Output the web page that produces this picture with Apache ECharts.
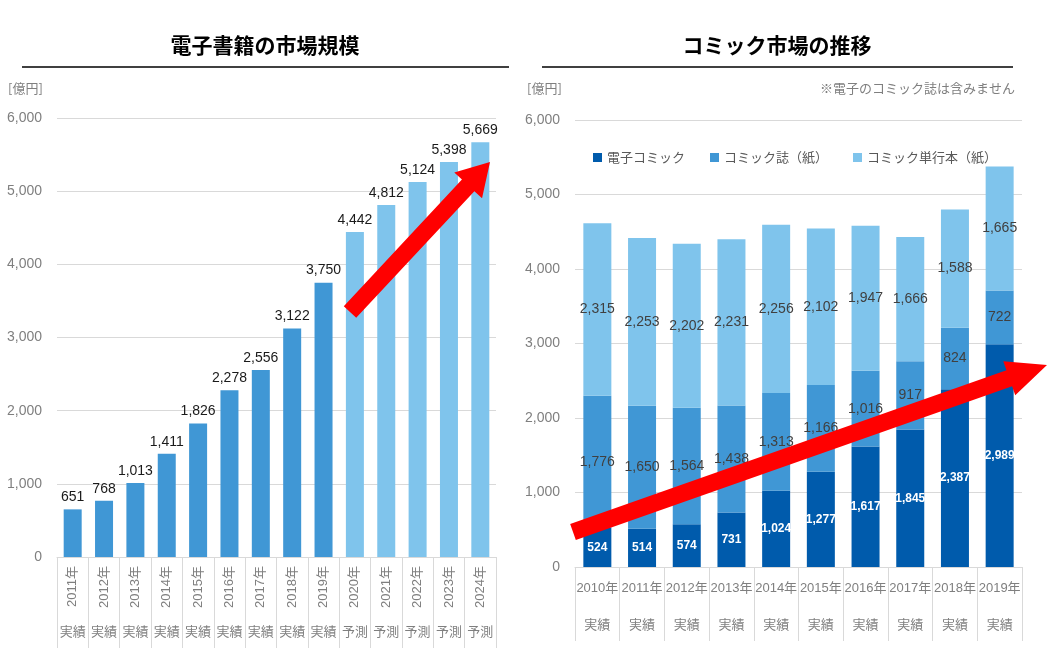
<!DOCTYPE html>
<html>
<head>
<meta charset="utf-8">
<script src="https://cdn.jsdelivr.net/npm/echarts@6/dist/echarts.min.js"></script>
<style>
html, body { margin: 0; padding: 0; background: #fff; }
#main { width: 1063px; height: 659px; }
</style>
</head>
<body>
<div id="main"></div>
<script>
// 電子書籍の市場規模
var ebookYears = ['2011年', '2012年', '2013年', '2014年', '2015年', '2016年', '2017年',
    '2018年', '2019年', '2020年', '2021年', '2022年', '2023年', '2024年'];
var ebookPhase = ['実績', '実績', '実績', '実績', '実績', '実績', '実績', '実績', '実績',
    '予測', '予測', '予測', '予測', '予測'];
var ebookValues = [651, 768, 1013, 1411, 1826, 2278, 2556, 3122, 3750, 4442, 4812, 5124, 5398, 5669];

// コミック市場の推移
var comicYears = ['2010年', '2011年', '2012年', '2013年', '2014年', '2015年', '2016年',
    '2017年', '2018年', '2019年'];
var comicPhase = ['実績', '実績', '実績', '実績', '実績', '実績', '実績', '実績', '実績', '実績'];
var digitalComic = [524, 514, 574, 731, 1024, 1277, 1617, 1845, 2387, 2989];
var comicMagazine = [1776, 1650, 1564, 1438, 1313, 1166, 1016, 917, 824, 722];
var comicBook = [2315, 2253, 2202, 2231, 2256, 2102, 1947, 1666, 1588, 1665];

var yTicks = [0, 6000, 1000];

var FONT = "'Liberation Sans', 'Noto Sans CJK JP', sans-serif";
var JP = "'Noto Sans CJK JP', sans-serif";
var GRAY = '#7f7f7f';
var GRID = '#d9d9d9';
var C_DARK = '#005bac', C_MID = '#4097d5', C_LIGHT = '#7fc4ec';

function comma(v) {
    return String(v).replace(/\B(?=(\d{3})+(?!\d))/g, ',');
}

// thick annotation arrow as polygon
function arrow(x1, y1, x2, y2, sw, hw, hl) {
    var dx = x2 - x1, dy = y2 - y1, L = Math.sqrt(dx * dx + dy * dy);
    var ux = dx / L, uy = dy / L, nx = -uy, ny = ux;
    var bx = x2 - ux * hl, by = y2 - uy * hl;
    return [
        [x1 + nx * sw / 2, y1 + ny * sw / 2],
        [bx + nx * sw / 2, by + ny * sw / 2],
        [bx + nx * hw / 2, by + ny * hw / 2],
        [x2, y2],
        [bx - nx * hw / 2, by - ny * hw / 2],
        [bx - nx * sw / 2, by - ny * sw / 2],
        [x1 - nx * sw / 2, y1 - ny * sw / 2]
    ];
}

function valueAxis(gridIndex) {
    return {
        type: 'value',
        gridIndex: gridIndex,
        min: yTicks[0],
        max: yTicks[1],
        interval: yTicks[2],
        axisLine: { show: false },
        axisTick: { show: false },
        splitLine: { lineStyle: { color: GRID, width: 1 } },
        axisLabel: { color: GRAY, fontSize: 14, fontFamily: FONT, margin: 15, formatter: comma }
    };
}

var chart = echarts.init(document.getElementById('main'));

var option = {
    animation: false,
    textStyle: { fontFamily: FONT },
    grid: [
        { left: 57, right: 567, top: 118, bottom: 102 },
        { left: 575, right: 41, top: 120, bottom: 92 }
    ],
    legend: {
        left: 593,
        top: 151,
        padding: 0,
        icon: 'rect',
        itemWidth: 9,
        itemHeight: 9,
        itemGap: 25,
        textStyle: { color: '#595959', fontSize: 13, fontFamily: JP },
        data: ['電子コミック', 'コミック誌（紙）', 'コミック単行本（紙）']
    },
    xAxis: [
        {
            type: 'category', gridIndex: 0, data: ebookYears,
            axisLine: { lineStyle: { color: GRID } },
            axisTick: { show: true, interval: 0, length: 91, lineStyle: { color: GRID } },
            axisLabel: { interval: 0, rotate: 90, color: GRAY, fontSize: 13, fontFamily: FONT, margin: 9 }
        },
        {
            type: 'category', gridIndex: 0, data: ebookPhase, position: 'bottom', offset: 67,
            axisLine: { show: false },
            axisTick: { show: false },
            axisLabel: { interval: 0, color: GRAY, fontSize: 13, fontFamily: JP, margin: 1 }
        },
        {
            type: 'category', gridIndex: 1, data: comicYears,
            axisLine: { lineStyle: { color: GRID } },
            axisTick: { show: true, interval: 0, length: 74, lineStyle: { color: GRID } },
            axisLabel: { interval: 0, color: GRAY, fontSize: 13, fontFamily: FONT, margin: 15 }
        },
        {
            type: 'category', gridIndex: 1, data: comicPhase, position: 'bottom', offset: 50,
            axisLine: { show: false },
            axisTick: { show: false },
            axisLabel: { interval: 0, color: GRAY, fontSize: 13, fontFamily: JP, margin: 1 }
        }
    ],
    yAxis: [valueAxis(0), valueAxis(1)],
    series: [
        {
            name: '電子書籍',
            type: 'bar',
            xAxisIndex: 0,
            yAxisIndex: 0,
            barWidth: 18,
            data: ebookValues,
            itemStyle: {
                color: function (p) {
                    return ebookPhase[p.dataIndex] === '予測' ? C_LIGHT : C_MID;
                }
            },
            label: {
                show: true, position: 'top', distance: 5,
                color: '#1a1a1a', fontSize: 14, fontFamily: FONT,
                formatter: function (p) { return comma(p.value); }
            }
        },
        {
            name: '電子コミック',
            type: 'bar',
            stack: 'comic',
            xAxisIndex: 2,
            yAxisIndex: 1,
            barWidth: 28,
            data: digitalComic,
            itemStyle: { color: C_DARK },
            label: {
                show: true, position: 'inside',
                color: '#fff', fontSize: 12, fontWeight: 'bold', fontFamily: FONT,
                formatter: function (p) { return comma(p.value); }
            }
        },
        {
            name: 'コミック誌（紙）',
            type: 'bar',
            stack: 'comic',
            xAxisIndex: 2,
            yAxisIndex: 1,
            barWidth: 28,
            data: comicMagazine,
            itemStyle: { color: C_MID },
            label: {
                show: true, position: 'inside',
                color: '#404040', fontSize: 14, fontFamily: FONT,
                formatter: function (p) { return comma(p.value); }
            }
        },
        {
            name: 'コミック単行本（紙）',
            type: 'bar',
            stack: 'comic',
            xAxisIndex: 2,
            yAxisIndex: 1,
            barWidth: 28,
            data: comicBook,
            itemStyle: { color: C_LIGHT },
            label: {
                show: true, position: 'inside',
                color: '#404040', fontSize: 14, fontFamily: FONT,
                formatter: function (p) { return comma(p.value); }
            }
        }
    ],
    graphic: [
        { type: 'text', x: 265, y: 45, z: 100,
          style: { text: '電子書籍の市場規模', fill: '#000', font: 'bold 21px ' + JP, align: 'center', verticalAlign: 'middle' } },
        { type: 'line', z: 100, shape: { x1: 22, y1: 67, x2: 509, y2: 67 }, style: { stroke: '#000', lineWidth: 1.3 } },
        { type: 'text', x: 8, y: 88, z: 100,
          style: { text: '[億円]', fill: GRAY, font: '13px ' + JP, align: 'left', verticalAlign: 'middle' } },

        { type: 'text', x: 777, y: 45, z: 100,
          style: { text: 'コミック市場の推移', fill: '#000', font: 'bold 21px ' + JP, align: 'center', verticalAlign: 'middle' } },
        { type: 'line', z: 100, shape: { x1: 542, y1: 67, x2: 1013, y2: 67 }, style: { stroke: '#000', lineWidth: 1.3 } },
        { type: 'text', x: 527, y: 88, z: 100,
          style: { text: '[億円]', fill: GRAY, font: '13px ' + JP, align: 'left', verticalAlign: 'middle' } },
        { type: 'text', x: 1015, y: 88, z: 100,
          style: { text: '※電子のコミック誌は含みません', fill: GRAY, font: '13px ' + JP, align: 'right', verticalAlign: 'middle' } },

        { type: 'polygon', z: 100, shape: { points: arrow(350, 312, 490, 162, 17, 38, 32) }, style: { fill: '#ff0000' } },
        { type: 'polygon', z: 100, shape: { points: arrow(573, 532, 1047, 365, 17, 36, 40) }, style: { fill: '#ff0000' } }
    ]
};

chart.setOption(option);
</script>
</body>
</html>
